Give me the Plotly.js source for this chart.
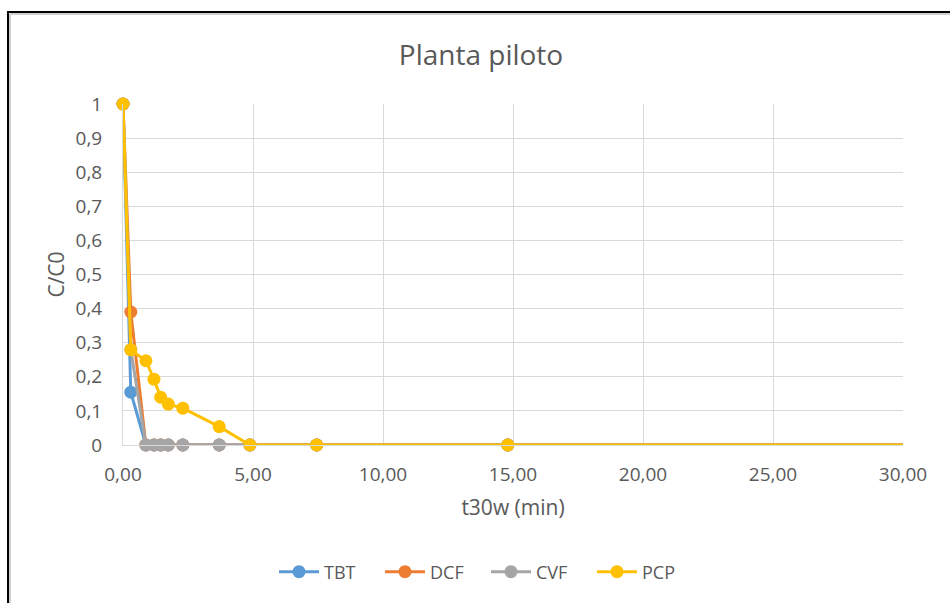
<!DOCTYPE html>
<html>
<head>
<meta charset="utf-8">
<script src="https://cdn.plot.ly/plotly-3.0.1.min.js"></script>
<style>
  html, body { margin: 0; padding: 0; background: #fff; }
  #chart { width: 950px; height: 603px; }
</style>
</head>
<body>
<div id="chart"></div>
<script>
// t30w (min) sampling times (last point lies beyond the axis range and is clipped)
const t30w = [0, 0.3, 0.88, 1.19, 1.45, 1.74, 2.3, 3.7, 4.88, 7.45, 14.8, 59.2];
const seriesNames = ['TBT', 'DCF', 'CVF', 'PCP'];
const TBT = [1, 0.155, 0, 0, 0, 0, 0, 0, 0, 0, 0, 0];
const DCF = [1, 0.39, 0, 0, 0, 0, 0, 0, 0, 0, 0, 0];
const CVF = [1, 0.28, 0, 0, 0, 0, 0, 0, 0, 0, 0, 0];
const PCP = [1, 0.279, 0.247, 0.193, 0.14, 0.12, 0.108, 0.054, 0, 0, 0, 0];
const colors = ['#5B9BD5', '#ED7D31', '#A5A5A5', '#FFC000'];
const X_MAX = 30;

const values = [TBT, DCF, CVF, PCP];
const FONT = '"Open Sans", "Noto Sans", sans-serif';
const TXT = '#595959';

const traces = [];
values.forEach((v, i) => {
  // points inside the axis range: line + markers, markers not clipped at edges
  const inIdx = t30w.map((t, k) => k).filter(k => t30w[k] <= X_MAX);
  const lastIn = inIdx[inIdx.length - 1];
  traces.push({
    x: inIdx.map(k => t30w[k]),
    y: inIdx.map(k => v[k]),
    name: seriesNames[i],
    legendgroup: seriesNames[i],
    type: 'scatter',
    mode: 'lines+markers',
    line: { color: colors[i], width: 3 },
    marker: { color: colors[i], size: 13 },
    cliponaxis: false
  });
  // continuation of the line beyond the axis range (clipped)
  traces.push({
    x: t30w.slice(lastIn),
    y: v.slice(lastIn),
    name: seriesNames[i],
    legendgroup: seriesNames[i],
    showlegend: false,
    type: 'scatter',
    mode: 'lines',
    line: { color: colors[i], width: 3 },
    cliponaxis: true
  });
});

// plot area geometry (pixels) used for the frame decoration
const L = 123, R = 903, T = 104, B = 445;
const px = X => (X - L) / (R - L);
const py = Y => (B - Y) / (B - T);

const layout = {
  width: 950,
  height: 603,
  margin: { l: L, r: 950 - R, t: T, b: 603 - B, pad: 0 },
  paper_bgcolor: '#ffffff',
  plot_bgcolor: '#ffffff',
  separators: ',.',
  font: { family: FONT, color: TXT, size: 18 },
  title: {
    text: 'Planta piloto',
    font: { family: FONT, size: 28, color: TXT },
    x: 481 / 950, xref: 'container', xanchor: 'center',
    y: 1 - 55 / 603, yref: 'container', yanchor: 'middle'
  },
  xaxis: {
    range: [0, X_MAX],
    dtick: 5,
    tick0: 0,
    tickformat: '.2f',
    showgrid: true,
    gridcolor: '#d9d9d9',
    gridwidth: 1,
    zeroline: false,
    showline: true,
    linecolor: '#d9d9d9',
    linewidth: 1,
    ticks: '',
    ticklabelstandoff: 12,
    tickfont: { family: FONT, size: 19, color: TXT },
    title: { text: 't30w (min)', font: { family: FONT, size: 21, color: TXT }, standoff: 14 }
  },
  yaxis: {
    range: [0, 1],
    dtick: 0.1,
    tick0: 0,
    showgrid: true,
    gridcolor: '#d9d9d9',
    gridwidth: 1,
    zeroline: false,
    showline: true,
    linecolor: '#d9d9d9',
    linewidth: 1,
    ticks: '',
    ticklabelstandoff: 16,
    tickfont: { family: FONT, size: 19, color: TXT },
    title: { text: 'C/C0', font: { family: FONT, size: 21, color: TXT }, standoff: 5 }
  },
  showlegend: true,
  legend: {
    orientation: 'h',
    x: px(486), xanchor: 'center',
    y: py(572), yanchor: 'middle',
    font: { family: FONT, size: 18, color: TXT },
    entrywidth: 51,
    itemwidth: 40,
    traceorder: 'normal',
    bgcolor: 'rgba(0,0,0,0)'
  },
  shapes: [
    { type: 'line', xref: 'paper', yref: 'paper', x0: px(8), x1: px(8), y0: py(603), y1: py(12),
      line: { color: '#000000', width: 2 } },
    { type: 'line', xref: 'paper', yref: 'paper', x0: px(7), x1: px(950), y0: py(12), y1: py(12),
      line: { color: '#000000', width: 2 } },
    { type: 'line', xref: 'paper', yref: 'paper', x0: px(10), x1: px(10), y0: py(603), y1: py(14),
      line: { color: '#d0d0d0', width: 2 } },
    { type: 'line', xref: 'paper', yref: 'paper', x0: px(10), x1: px(950), y0: py(14), y1: py(14),
      line: { color: '#d0d0d0', width: 2 } }
  ]
};

Plotly.newPlot('chart', traces, layout, { staticPlot: true, displayModeBar: false });
</script>
</body>
</html>
